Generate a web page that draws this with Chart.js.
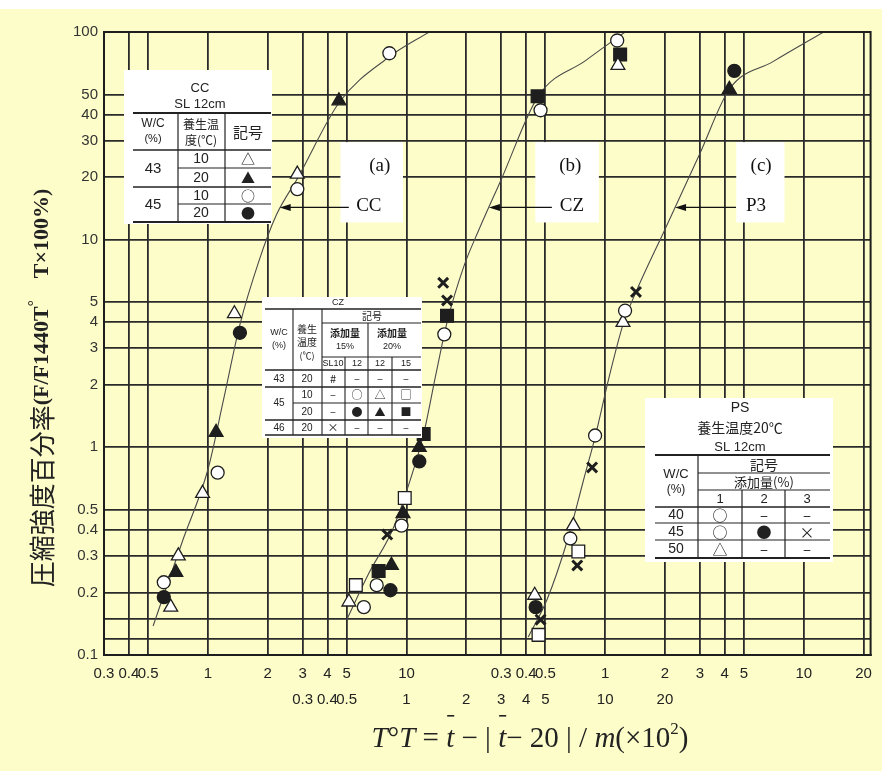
<!DOCTYPE html>
<html>
<head>
<meta charset="utf-8">
<script src="https://cdn.jsdelivr.net/npm/chart.js@4.4.1/dist/chart.umd.min.js"></script>
<style>
  html, body { margin: 0; padding: 0; background: #fff; }
  #c { display: block; }
</style>
</head>
<body>
<canvas id="c" width="882" height="771"></canvas>
<script>
// 軸目盛り
const yTickVals = [0.1, 0.12, 0.15, 0.2, 0.3, 0.4, 0.5, 1, 2, 3, 4, 5, 10, 20, 30, 40, 50, 100];
const yTickLabels = ['0.1', '', '', '0.2', '0.3', '0.4', '0.5', '1', '2', '3', '4', '5', '10', '20', '30', '40', '50', '100'];
const xGridVals = [0.3, 0.4, 0.5, 1, 2, 3, 4, 5, 10, 20, 30, 40, 50, 100, 200, 300, 400, 500, 1000, 2000];
const xRow1Labels = ['0.3', '0.4', '0.5', '1', '2', '3', '4', '5', '10', '', '0.3', '0.4', '0.5', '1', '2', '3', '4', '5', '10', '20'];
const xRow2Vals = [3, 4, 5, 10, 20, 30, 40, 50, 100, 200];
const xRow2Labels = ['0.3', '0.4', '0.5', '1', '2', '3', '4', '5', '10', '20'];

// 各セメントの横軸のずれ（CC基準）
const czShift = 10;
const p3Shift = 100;

// (a) CC
const ccOpenTriX = [0.65, 0.71, 0.94, 1.36, 2.82];
const ccOpenTriY = [0.17, 0.30, 0.60, 4.4, 20.7];
const ccFillTriX = [0.69, 1.10, 4.57];
const ccFillTriY = [0.25, 1.18, 46.6];
const ccOpenCircX = [0.60, 1.12, 2.82, 8.2];
const ccOpenCircY = [0.224, 0.755, 17.5, 79];
const ccFillCircX = [0.60, 1.45];
const ccFillCircY = [0.19, 3.56];
const ccCurveX = [0.53, 0.75, 1.0, 1.2, 1.45, 1.8, 2.2, 2.85, 4.6, 8.2, 13];
const ccCurveY = [0.138, 0.36, 0.78, 1.7, 3.9, 7.8, 13, 20, 46, 76, 100];

// (b) CZ
const czOpenCircX = [0.61, 0.708, 0.944, 1.55, 4.73, 11.5];
const czOpenCircY = [0.17, 0.217, 0.42, 3.5, 42, 91];
const czOpenTriX = [0.513, 11.6];
const czOpenTriY = [0.18, 69];
const czOpenSqX = [0.556, 0.98];
const czOpenSqY = [0.217, 0.57];
const czFillCircX = [0.83, 1.16];
const czFillCircY = [0.205, 0.855];
const czFillTriX = [0.84, 0.96, 1.16];
const czFillTriY = [0.27, 0.48, 1.0];
const czFillSqX = [0.724, 1.22, 1.60, 4.57, 11.9];
const czFillSqY = [0.254, 1.16, 4.3, 49, 78];
const czCrossX = [0.80, 1.53, 1.60];
const czCrossY = [0.38, 6.2, 5.1];
const czCurveX = [0.50, 0.65, 0.85, 1.02, 1.22, 1.4, 1.6, 1.95, 2.3, 3.0, 4.6, 8.0, 12.6];
const czCurveY = [0.148, 0.25, 0.40, 0.65, 1.16, 2.2, 4.0, 7.5, 11, 19.5, 49, 73, 100];

// (c) P3
const p3OpenCircX = [0.668, 0.89, 1.26];
const p3OpenCircY = [0.364, 1.14, 4.55];
const p3OpenTriX = [0.442, 0.692, 1.23];
const p3OpenTriY = [0.194, 0.42, 4.0];
const p3FillCircX = [0.447, 4.47];
const p3FillCircY = [0.17, 65];
const p3FillTriX = [4.22];
const p3FillTriY = [53];
const p3CrossX = [0.473, 0.724, 0.86, 1.43];
const p3CrossY = [0.148, 0.27, 0.80, 5.6];
const p3OpenSqX = [0.462, 0.733];
const p3OpenSqY = [0.125, 0.315];
const p3CurveX = [0.41, 0.51, 0.65, 0.78, 0.89, 1.05, 1.23, 1.43, 2.0, 3.0, 4.22, 7.0, 12.6];
const p3CurveY = [0.122, 0.185, 0.364, 0.70, 1.12, 2.2, 3.9, 5.6, 11.2, 26, 53, 72, 100];

const bgYellow = '#fdfdc9';
const ink = '#1e1e1e';
const sans = '"Liberation Sans", Arial, sans-serif';
const narrow = '"Liberation Sans Narrow", "Liberation Sans", Arial, sans-serif';
const serif = '"Liberation Serif", "Times New Roman", serif';
const cjk = '"Noto Sans CJK JP", sans-serif';

function pts(xs, ys, k) {
  return xs.map((x, i) => ({ x: x * k, y: ys[i] }));
}

function marker(xs, ys, k, style, filled) {
  const base = { data: pts(xs, ys, k), showLine: false, borderColor: ink, pointBorderColor: ink };
  if (style === 'cross') {
    return Object.assign(base, { pointStyle: 'crossRot', pointRadius: 7, pointBorderWidth: 3 });
  }
  const r = style === 'triangle' ? 8 : style === 'rect' ? 9 : 6.5;
  return Object.assign(base, {
    pointStyle: style, pointRadius: r, pointBorderWidth: 1.3,
    pointBackgroundColor: filled ? ink : '#fff'
  });
}

function curve(xs, ys, k) {
  return {
    data: pts(xs, ys, k), showLine: true, pointRadius: 0,
    borderColor: '#4a4a4a', borderWidth: 1.1, cubicInterpolationMode: 'monotone'
  };
}

// 曲線ラベル
const curveNotes = [
  { tag: '(a)', name: 'CC', tagX: 7.33, nameX: 6.46, box: [4.65, 9.6], tipX: 2.3 },
  { tag: '(b)', name: 'CZ', tagX: 66.8, nameX: 68, box: [44.5, 93], tipX: 26 },
  { tag: '(c)', name: 'P3', tagX: 610, nameX: 575, box: [457, 800], tipX: 225 }
];

function line(c, x0, y0, x1, y1, w) {
  c.lineWidth = w || 1.2;
  c.beginPath(); c.moveTo(x0, y0); c.lineTo(x1, y1); c.stroke();
}
function text(c, s, x, y, font) {
  c.font = font; c.fillText(s, x, y);
}

function drawCCTable(c) {
  c.fillStyle = '#fff';
  c.fillRect(124, 70, 148, 154);
  c.fillStyle = '#222'; c.strokeStyle = '#222';
  text(c, 'CC', 200, 88, '13px ' + sans);
  text(c, 'SL 12cm', 200, 104, '13px ' + sans);
  line(c, 133, 113, 271, 113, 2);
  line(c, 133, 150, 271, 150, 1.5);
  line(c, 178, 168, 271, 168, 1.2);
  line(c, 133, 187, 271, 187, 1.5);
  line(c, 178, 204, 271, 204, 1.2);
  line(c, 133, 222, 271, 222, 2);
  line(c, 178, 113, 178, 222, 1.2);
  line(c, 225, 113, 225, 222, 1.2);
  text(c, 'W/C', 153, 124, '12px ' + sans);
  text(c, '(%)', 153, 139, '11px ' + sans);
  text(c, '養生温', 201, 124, '12px ' + cjk);
  text(c, '度(℃)', 201, 140, '12px ' + cjk);
  text(c, '記号', 248, 132, '15px ' + cjk);
  text(c, '43', 153, 169, '15px ' + sans);
  text(c, '45', 153, 205, '15px ' + sans);
  text(c, '10', 201, 159, '14px ' + sans);
  text(c, '20', 201, 178, '14px ' + sans);
  text(c, '10', 201, 196, '14px ' + sans);
  text(c, '20', 201, 213, '14px ' + sans);
  text(c, '△', 248, 159, '14px ' + cjk);
  text(c, '▲', 248, 178, '14px ' + cjk);
  text(c, '○', 248, 196, '14px ' + cjk);
  text(c, '●', 248, 213, '14px ' + cjk);
}

function drawCZTable(c) {
  c.fillStyle = '#fff';
  c.fillRect(262, 297, 160, 141);
  c.fillStyle = '#222'; c.strokeStyle = '#222';
  text(c, 'CZ', 338, 303, '9px ' + sans);
  line(c, 265, 309, 421, 309, 1.6);
  line(c, 322, 323, 421, 323, 1.1);
  line(c, 322, 357, 421, 357, 1.1);
  line(c, 265, 370, 421, 370, 1.6);
  line(c, 265, 387, 421, 387, 1.3);
  line(c, 293, 403, 421, 403, 1.1);
  line(c, 265, 420, 421, 420, 1.3);
  line(c, 265, 435, 421, 435, 1.6);
  line(c, 293, 309, 293, 435, 1.1);
  line(c, 322, 309, 322, 435, 1.1);
  line(c, 345, 357, 345, 435, 1.1);
  line(c, 368, 323, 368, 435, 1.1);
  line(c, 392, 357, 392, 435, 1.1);
  text(c, '記号', 372, 316, '10px ' + cjk);
  text(c, '添加量', 345, 333, 'bold 10px ' + cjk);
  text(c, '15%', 345, 347, '9px ' + sans);
  text(c, '添加量', 392, 333, 'bold 10px ' + cjk);
  text(c, '20%', 392, 347, '9px ' + sans);
  text(c, 'W/C', 279, 333, '9px ' + sans);
  text(c, '(%)', 279, 346, '9px ' + sans);
  text(c, '養生', 307, 329, '10px ' + cjk);
  text(c, '温度', 307, 342, '10px ' + cjk);
  text(c, '(℃)', 307, 356, '9px ' + cjk);
  const cols = [333, 357, 380, 406];
  ['SL10', '12', '12', '15'].forEach((s, i) => text(c, s, cols[i], 364, '9px ' + sans));
  const rows = [
    ['43', '20', '#', '–', '–', '–'],
    [null, '10', '–', '○', '△', '□'],
    [null, '20', '–', '●', '▲', '■'],
    ['46', '20', '×', '–', '–', '–']
  ];
  const ry = [379, 395, 412, 428];
  rows.forEach((r, i) => {
    if (r[0]) text(c, r[0], 279, ry[i], '10px ' + sans);
    text(c, r[1], 307, ry[i], '10px ' + sans);
    for (let j = 0; j < 4; j++) text(c, r[j + 2], cols[j], ry[i], '11px ' + cjk);
  });
  text(c, '45', 279, 403, '10px ' + sans);
}

function drawPSTable(c) {
  c.fillStyle = '#fff';
  c.fillRect(645, 398, 188, 164);
  c.fillStyle = '#222'; c.strokeStyle = '#222';
  text(c, 'PS', 740, 408, '14px ' + sans);
  text(c, '養生温度20℃', 740, 428, '14px ' + cjk);
  text(c, 'SL 12cm', 740, 447, '13px ' + sans);
  line(c, 655, 455, 830, 455, 1.8);
  line(c, 698, 473, 830, 473, 1.2);
  line(c, 698, 490, 830, 490, 1.2);
  line(c, 655, 507, 830, 507, 1.6);
  line(c, 655, 523, 830, 523, 1.2);
  line(c, 655, 540, 830, 540, 1.2);
  line(c, 655, 558, 830, 558, 2);
  line(c, 698, 455, 698, 558, 1.2);
  line(c, 742, 490, 742, 558, 1.2);
  line(c, 785, 490, 785, 558, 1.2);
  text(c, 'W/C', 676, 474, '13px ' + sans);
  text(c, '(%)', 676, 490, '12px ' + sans);
  text(c, '記号', 764, 465, '14px ' + cjk);
  text(c, '添加量(%)', 764, 482, '13px ' + cjk);
  text(c, '1', 720, 499, '13px ' + sans);
  text(c, '2', 764, 499, '13px ' + sans);
  text(c, '3', 807, 499, '13px ' + sans);
  const rows = [['40', '○', '–', '–'], ['45', '○', '●', '×'], ['50', '△', '–', '–']];
  const ry = [515, 532, 549];
  rows.forEach((r, i) => {
    text(c, r[0], 676, ry[i], '14px ' + sans);
    text(c, r[1], 720, ry[i], '15px ' + cjk);
    text(c, r[2], 764, ry[i], '15px ' + cjk);
    text(c, r[3], 807, ry[i], '15px ' + cjk);
  });
}

const deco = {
  id: 'deco',
  beforeDraw(chart) {
    const c = chart.ctx;
    c.save();
    c.fillStyle = '#fff';
    c.fillRect(0, 0, chart.width, chart.height);
    c.fillStyle = bgYellow;
    c.fillRect(0, 9, chart.width, chart.height - 9);
    c.restore();
  },
  afterDatasetsDraw(chart) {
    const c = chart.ctx, xs = chart.scales.x, ys = chart.scales.y, a = chart.chartArea;
    const px = v => xs.getPixelForValue(v), py = v => ys.getPixelForValue(v);
    c.save();
    // 枠
    c.strokeStyle = ink; c.lineWidth = 2;
    c.strokeRect(a.left, a.top, a.right - a.left, a.bottom - a.top);

    c.textAlign = 'center'; c.textBaseline = 'middle';
    curveNotes.forEach(n => {
      const x0 = px(n.box[0]), x1 = px(n.box[1]);
      const yTop = py(29.5), yBot = py(12.1);
      c.fillStyle = '#fff';
      c.fillRect(x0, yTop, x1 - x0, yBot - yTop);
      c.fillStyle = '#111';
      text(c, n.tag, px(n.tagX), py(22.7), '19px ' + serif);
      text(c, n.name, px(n.nameX), py(14.5), '19px ' + serif);
      // 矢印
      const ty = py(14.3), tx = px(n.tipX), sx = px(n.nameX) - 20;
      c.strokeStyle = '#111';
      line(c, sx, ty, tx + 8, ty, 1.1);
      c.beginPath();
      c.moveTo(tx, ty); c.lineTo(tx + 11, ty - 3.5); c.lineTo(tx + 11, ty + 3.5); c.closePath();
      c.fill();
    });

    drawCCTable(c);
    drawCZTable(c);
    drawPSTable(c);
    c.restore();
  },
  afterDraw(chart) {
    const c = chart.ctx;
    c.save();
    c.fillStyle = '#222';
    c.textBaseline = 'alphabetic'; c.textAlign = 'left';
    // 横軸タイトル
    const fs = 29;
    const segs = [
      ['T', 'italic'], ['°', ''], ['T', 'italic'], [' = ', ''], ['t', 'italic', 'bar'],
      [' − | ', ''], ['t', 'italic', 'bar'], ['− 20 | / ', ''], ['m', 'italic'],
      ['(×10', ''], ['2', 'sup'], [')', '']
    ];
    const fontOf = s => s[1] === 'sup' ? (Math.round(fs * 0.6) + 'px ' + serif) : ((s[1] === 'italic' ? 'italic ' : '') + fs + 'px ' + serif);
    let total = 0;
    segs.forEach(s => { c.font = fontOf(s); total += c.measureText(s[0]).width; });
    let x = 530 - total / 2;
    const base = 747;
    segs.forEach(s => {
      c.font = fontOf(s);
      const w = c.measureText(s[0]).width;
      c.fillText(s[0], x, s[1] === 'sup' ? base - 13 : base);
      if (s[2] === 'bar') {
        c.fillRect(x + 1, base - 32, w - 1, 1.6);
      }
      x += w;
    });

    // 縦軸タイトル
    c.translate(42, 388);
    c.rotate(-Math.PI / 2);
    c.textBaseline = 'middle';
    const ySegs = [
      ['圧縮強度百分率', '26px ' + cjk, 0],
      ['(F/F1440T', 'bold 22px ' + serif, 0],
      ['°', 'bold 15px ' + serif, -8],
      ['    T×100%)', 'bold 22px ' + serif, 0]
    ];
    let tw = 0;
    ySegs.forEach(s => { c.font = s[1]; tw += c.measureText(s[0]).width; });
    let yx = -tw / 2;
    ySegs.forEach(s => {
      c.font = s[1];
      c.fillText(s[0], yx, s[2]);
      yx += c.measureText(s[0]).width;
    });
    c.restore();
  }
};

const datasets = [
  marker(ccOpenTriX, ccOpenTriY, 1, 'triangle', false),
  marker(ccFillTriX, ccFillTriY, 1, 'triangle', true),
  marker(ccOpenCircX, ccOpenCircY, 1, 'circle', false),
  marker(ccFillCircX, ccFillCircY, 1, 'circle', true),
  marker(czOpenCircX, czOpenCircY, czShift, 'circle', false),
  marker(czOpenTriX, czOpenTriY, czShift, 'triangle', false),
  marker(czOpenSqX, czOpenSqY, czShift, 'rect', false),
  marker(czFillCircX, czFillCircY, czShift, 'circle', true),
  marker(czFillTriX, czFillTriY, czShift, 'triangle', true),
  marker(czFillSqX, czFillSqY, czShift, 'rect', true),
  marker(czCrossX, czCrossY, czShift, 'cross', true),
  marker(p3OpenCircX, p3OpenCircY, p3Shift, 'circle', false),
  marker(p3OpenTriX, p3OpenTriY, p3Shift, 'triangle', false),
  marker(p3FillCircX, p3FillCircY, p3Shift, 'circle', true),
  marker(p3FillTriX, p3FillTriY, p3Shift, 'triangle', true),
  marker(p3CrossX, p3CrossY, p3Shift, 'cross', true),
  marker(p3OpenSqX, p3OpenSqY, p3Shift, 'rect', false),
  curve(ccCurveX, ccCurveY, 1),
  curve(czCurveX, czCurveY, czShift),
  curve(p3CurveX, p3CurveY, p3Shift)
];

const gridStyle = { color: '#2a2a2a', lineWidth: 1.8, drawTicks: false };

new Chart(document.getElementById('c'), {
  type: 'scatter',
  data: { datasets: datasets },
  plugins: [deco],
  options: {
    responsive: false,
    animation: false,
    devicePixelRatio: 1,
    layout: { padding: { top: 32, right: 6, left: 0, bottom: 0 } },
    plugins: { legend: { display: false }, tooltip: { enabled: false } },
    scales: {
      x: {
        type: 'logarithmic', position: 'bottom', min: 0.3, max: 2170, weight: 1,
        grid: gridStyle,
        border: { color: '#2a2a2a', width: 2 },
        afterBuildTicks: s => { s.ticks = xGridVals.map(v => ({ value: v })); },
        afterFit: s => { s.height = 24; },
        ticks: {
          autoSkip: false, maxRotation: 0, padding: 10, color: '#222',
          font: { family: narrow, size: 15 },
          callback: (v, i) => xRow1Labels[i]
        }
      },
      x2: {
        type: 'logarithmic', position: 'bottom', min: 0.3, max: 2170, weight: 2,
        grid: { display: false },
        border: { display: false },
        afterBuildTicks: s => { s.ticks = xRow2Vals.map(v => ({ value: v })); },
        afterFit: s => { s.height = 92; },
        ticks: {
          autoSkip: false, maxRotation: 0, padding: 4, color: '#222',
          font: { family: narrow, size: 15 },
          callback: (v, i) => xRow2Labels[i]
        }
      },
      y: {
        type: 'logarithmic', min: 0.1, max: 100,
        grid: gridStyle,
        border: { color: '#2a2a2a', width: 2 },
        afterBuildTicks: s => { s.ticks = yTickVals.map(v => ({ value: v })); },
        afterFit: s => { s.width = 104; },
        ticks: {
          autoSkip: false, padding: 6, color: '#333',
          font: { family: sans, size: 15 },
          callback: (v, i) => yTickLabels[i]
        }
      }
    }
  }
});
</script>
</body>
</html>
